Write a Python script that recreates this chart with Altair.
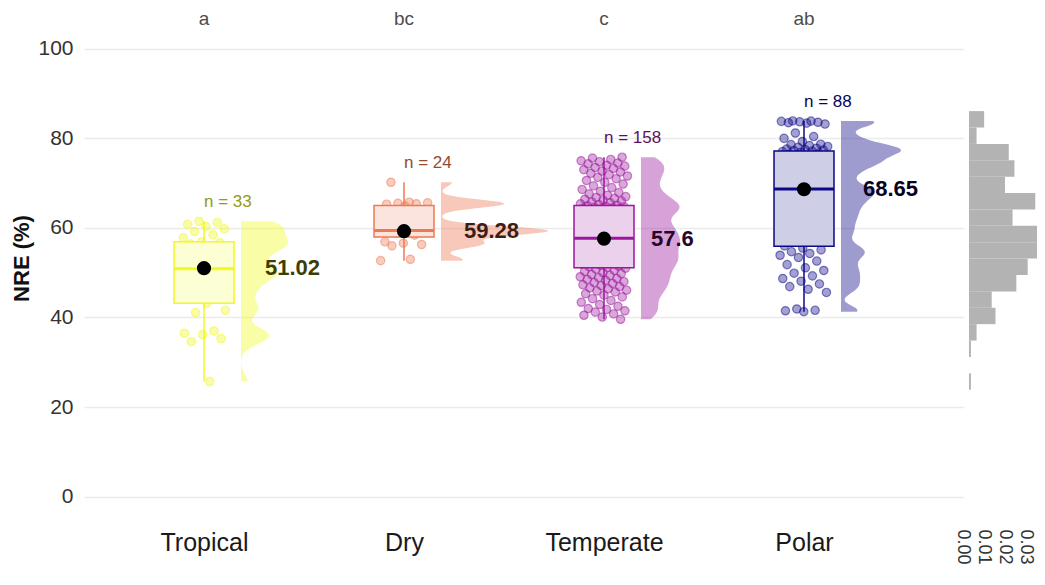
import altair as alt
import pandas as pd

# ---------------- data ----------------
CATEGORIES = ["Tropical", "Dry", "Temperate", "Polar"]
COLORS = ["#F0F921", "#ED7953", "#9C179E", "#0D0887"]
LETTERS = ["a", "bc", "c", "ab"]
MEANS = [51.02, 59.28, 57.6, 68.65]
Q1 = [43.2, 58.0, 51.1, 55.9]
MEDIAN = [50.9, 59.4, 57.7, 68.7]
Q3 = [56.9, 65.0, 65.0, 77.2]
WHISK_LO = [25.7, 52.7, 39.6, 41.3]
WHISK_HI = [61.5, 70.2, 75.8, 83.9]
DENS_TICKS = [0.0, 0.01, 0.02, 0.03]

TROPICAL = [25.7, 34.6, 35.3, 36.2, 36.5, 37.0, 41.1, 41.6, 43.2, 45.5, 47.0,
            48.3, 49.2, 49.9, 50.4, 50.7, 50.9, 52.5, 53.8, 54.8, 55.5, 56.0,
            56.4, 56.7, 56.9, 57.8, 58.5, 59.2, 59.8, 60.3, 60.8, 61.2, 61.5]
DRY = [52.7, 53.0, 56.0, 56.3, 56.6, 56.9, 58.4, 58.8, 59.0, 59.15, 59.3, 59.38,
       59.42, 59.55, 59.7, 59.9, 60.2, 64.9, 65.3, 65.4, 65.5, 65.6, 65.75, 70.2]
TEMPERATE = [39.6, 40.1, 40.5, 40.8, 41.2, 41.5, 41.8, 42.0,
             42.5, 42.9, 43.4, 43.8, 44.2, 44.6, 45.0, 45.3, 45.7,
             45.9, 46.1, 46.4, 46.6, 46.9, 47.1, 47.3, 47.6, 47.8, 48.0, 48.3,
             48.5, 48.7, 48.9, 49.1, 49.4,
             49.6, 49.8, 50.0, 50.3, 50.5, 50.8, 51.0,
             51.2, 51.35, 51.5, 51.7, 51.9, 52.1, 52.3, 52.5, 52.65, 52.8, 52.95, 53.1,
             53.25, 53.4, 53.55, 53.7, 53.85, 54.0, 54.2, 54.4, 54.6, 54.8, 55.0,
             55.2, 55.4, 55.6, 55.8, 56.0, 56.2, 56.4, 56.55, 56.7, 56.8,
             56.9, 57.0, 57.15, 57.3, 57.45, 57.6,
             57.8, 58.0, 58.2, 58.35, 58.5, 58.7, 58.9, 59.1, 59.3, 59.5, 59.7,
             59.9, 60.0, 60.15, 60.3, 60.4,
             60.6, 60.85, 61.1, 61.4, 61.7, 62.0, 62.3, 62.6, 62.85, 63.1, 63.3,
             63.5, 63.7, 63.9, 64.05,
             64.2, 64.3, 64.4, 64.5, 64.6, 64.7, 64.8, 64.95,
             65.05, 65.2, 65.4, 65.6, 65.8, 66.0, 66.2, 66.4, 66.6, 66.8, 67.0, 67.3, 67.6,
             67.9, 68.2, 68.6, 69.0, 69.4, 69.8, 70.2, 70.6, 71.0, 71.3,
             71.6, 71.9, 72.2, 72.5, 72.7, 73.0, 73.3, 73.5, 73.8, 74.0, 74.3, 74.5, 74.8, 75.0,
             75.3, 75.6, 75.8]
POLAR = [41.3, 41.5, 41.6, 41.9,
         45.6, 46.3, 46.9, 47.5, 48.1, 48.7, 49.3, 49.9, 50.5, 51.1, 51.8, 52.6,
         53.4, 53.9, 54.3, 54.7, 55.1, 55.5,
         56.0, 57.2, 58.5, 59.3, 60.1, 61.0, 61.8, 62.5, 63.1, 63.8, 64.4, 65.0,
         65.5, 66.0, 66.4, 66.8, 67.2, 67.6, 67.9, 68.2, 68.4, 68.6,
         68.8, 69.4, 70.2, 71.0, 72.0, 72.6, 73.1, 73.6, 74.0, 74.3, 74.6, 74.8,
         75.0, 75.05, 75.4, 75.8, 76.2, 76.5, 76.7, 76.9, 77.05, 77.15,
         77.3, 77.4, 77.5, 77.6, 77.8, 78.0, 78.2, 78.4, 78.6, 78.7, 79.3, 80.0,
         80.4, 81.2, 83.2, 83.4, 83.5, 83.6, 83.7, 83.8, 83.85, 83.9]
GROUPS = [TROPICAL, DRY, TEMPERATE, POLAR]

# ---------------- style ----------------
FONT = "Liberation Sans"
BOX_HALF = 0.15
VOFF = 0.185
VIOLIN_W = [0.235, 0.535, 0.195, 0.30]
BW = [1.6, 0.9, 1.5, 1.1]
LABEL_DX = [0.305, 0.30, 0.235, 0.295]
JIT = 0.24
HBIN = 3.66
LETTER_Y = 106.6
N_GAP = 4.2


def mix(hex_, t, base=(255, 255, 255)):
    c = [int(hex_[k:k + 2], 16) for k in (1, 3, 5)]
    return "#%02x%02x%02x" % tuple(round(base[k] + (c[k] - base[k]) * t) for k in range(3))


rows = []
for i, (cat, vals) in enumerate(zip(CATEGORIES, GROUPS)):
    for v in vals:
        rows.append({"cat": cat, "idx": i + 1, "nre": v, "col": COLORS[i],
                     "ncol": mix(COLORS[i], 0.62, (0, 0, 0))})
pts_df = pd.DataFrame(rows)

stats_df = pd.DataFrame({
    "cat": CATEGORIES, "idx": [1, 2, 3, 4], "q1": Q1, "med": MEDIAN, "q3": Q3,
    "lo": WHISK_LO, "hi": WHISK_HI, "mean": MEANS,
    "mean_lbl": [str(m) for m in MEANS], "letter": LETTERS,
    "ldx": LABEL_DX, "col": COLORS,
    "fill": [mix(c, 0.2) for c in COLORS],
    "dark": [mix(c, 0.25, (0, 0, 0)) for c in COLORS],
    "ly": [LETTER_Y] * 4,
})

all_vals = [v for g in GROUPS for v in g]
ANCHOR = min(all_vals) - HBIN / 2
hist_df = pd.DataFrame({"nre": all_vals})

# ---------------- scales / axes ----------------
XSCALE = alt.Scale(domain=[0.4, 4.8], nice=False, zero=False)
label_expr = "[" + ",".join("'%s'" % c for c in CATEGORIES) + "][datum.value - 1]"
XAXIS = alt.Axis(orient="bottom", values=[1, 2, 3, 4], labelExpr=label_expr, title=None,
                 grid=False, domain=False, ticks=False, tickSize=0, labelFontSize=25,
                 labelFont=FONT, labelColor="#1a1a1a", labelPadding=11, labelOverlap=False)
YSCALE = alt.Scale(domain=[-5, 108], nice=False, zero=False)
YAXIS = alt.Axis(values=[0, 20, 40, 60, 80, 100], title="NRE (%)", grid=True,
                 gridColor="#EBEBEB", gridWidth=1.6, domain=False, ticks=False,
                 tickSize=0, labelFontSize=21, labelFont=FONT, labelColor="#333333",
                 labelPadding=11, titleFont=FONT, titleFontSize=22, titleFontWeight="bold",
                 titleColor="#111111", titleAngle=-90, titleX=-56, titleY=245,
                 titleAlign="center", titleBaseline="alphabetic")


def X(f):
    return alt.X(f, type="quantitative", scale=XSCALE, axis=XAXIS)


def Y(f):
    return alt.Y(f, type="quantitative", scale=YSCALE, axis=YAXIS)


layers = []

# half violins
for i, vals in enumerate(GROUPS):
    base = (i + 1) + VOFF
    v = (alt.Chart(pts_df)
         .transform_filter(alt.datum.idx == i + 1)
         .transform_density("nre", bandwidth=BW[i], extent=[min(vals), max(vals)],
                            steps=200, as_=["v", "d"])
         .transform_joinaggregate(dmax="max(d)")
         .transform_calculate(x0=f"{base}", x1=f"{base} + {VIOLIN_W[i]} * datum.d / datum.dmax")
         .mark_area(orient="horizontal", color=COLORS[i], opacity=0.4)
         .encode(y=Y("v"), x=X("x0"), x2="x1"))
    layers.append(v)

# jittered points
points = (alt.Chart(pts_df)
          .transform_window(rn="row_number()")
          .transform_calculate(xj=f"datum.idx + {JIT} * (((datum.rn * 0.6180339887) % 1) - 0.5)")
          .mark_circle(size=70, fillOpacity=0.38, strokeOpacity=0.5, strokeWidth=1.2)
          .encode(x=X("xj"), y=Y("nre"),
                  fill=alt.Fill("col:N", scale=None),
                  stroke=alt.Stroke("col:N", scale=None)))
layers.append(points)

sbase = alt.Chart(stats_df).transform_calculate(
    bx0=f"datum.idx - {BOX_HALF}", bx1=f"datum.idx + {BOX_HALF}",
    lx="datum.idx + datum.ldx")

whisk = sbase.mark_rule(strokeWidth=1.5).encode(
    x=X("idx"), y=Y("lo"), y2="hi", color=alt.Color("col:N", scale=None))
box = sbase.mark_rect(strokeWidth=1.5).encode(
    x=X("bx0"), x2="bx1", y=Y("q1"), y2="q3",
    fill=alt.Fill("fill:N", scale=None), stroke=alt.Stroke("col:N", scale=None))
med = sbase.mark_rule(strokeWidth=3).encode(
    x=X("bx0"), x2="bx1", y=Y("med"), color=alt.Color("col:N", scale=None))
mean_dot = sbase.mark_circle(size=200, color="black", opacity=1).encode(
    x=X("idx"), y=Y("mean"))
mean_lbl = sbase.mark_text(align="left", baseline="middle", fontSize=22,
                           fontWeight="bold", font=FONT).encode(
    x=X("lx"), y=Y("mean"), text="mean_lbl:N", color=alt.Color("dark:N", scale=None))
letters = sbase.mark_text(align="center", baseline="middle", fontSize=19,
                          font=FONT, color="#4D4D4D").encode(
    x=X("idx"), y=Y("ly"), text="letter:N")

n_lbl = (alt.Chart(pts_df)
         .transform_aggregate(n="count()", mx="max(nre)", groupby=["cat", "idx", "ncol"])
         .transform_calculate(ny=f"datum.mx + {N_GAP}", txt="'n = ' + datum.n")
         .mark_text(align="left", baseline="middle", fontSize=17, font=FONT)
         .encode(x=X("idx"), y=Y("ny"), text="txt:N", color=alt.Color("ncol:N", scale=None)))

layers += [whisk, box, med, mean_dot, mean_lbl, letters, n_lbl]
main = alt.layer(*layers)

# marginal histogram (density scale)
HX = alt.Scale(domain=[0, 0.04], range=[885, 885 + 84.0], nice=False, zero=False)
HAXIS = alt.Axis(orient="bottom", values=DENS_TICKS, format=".2f", labelAngle=90,
                 labelFontSize=18, labelFont=FONT, labelColor="#333333", labelPadding=10,
                 labelOffset=-7, grid=False, domain=False, ticks=False, tickSize=0,
                 title=None, labelOverlap=False)
hist = (alt.Chart(hist_df)
        .transform_calculate(b0=f"{ANCHOR} + floor((datum.nre - {ANCHOR}) / {HBIN}) * {HBIN}")
        .transform_aggregate(cnt="count()", groupby=["b0"])
        .transform_joinaggregate(total="sum(cnt)")
        .transform_calculate(b1=f"datum.b0 + {HBIN}",
                             dens=f"datum.cnt / (datum.total * {HBIN})", zero="0")
        .mark_rect(color="#B3B3B3")
        .encode(x=alt.X("zero:Q", scale=HX, axis=HAXIS), x2="dens",
                y=Y("b0"), y2="b1"))

chart = (alt.layer(main, hist)
         .resolve_scale(x="independent")
         .properties(width=880, height=506,
                     autosize=alt.AutoSizeParams(type="none"),
                     padding={"left": 76, "top": 5, "right": 73, "bottom": 58})
         .configure_view(stroke=None))

chart.save("out.html", embed_options={"renderer": "svg", "actions": False})
